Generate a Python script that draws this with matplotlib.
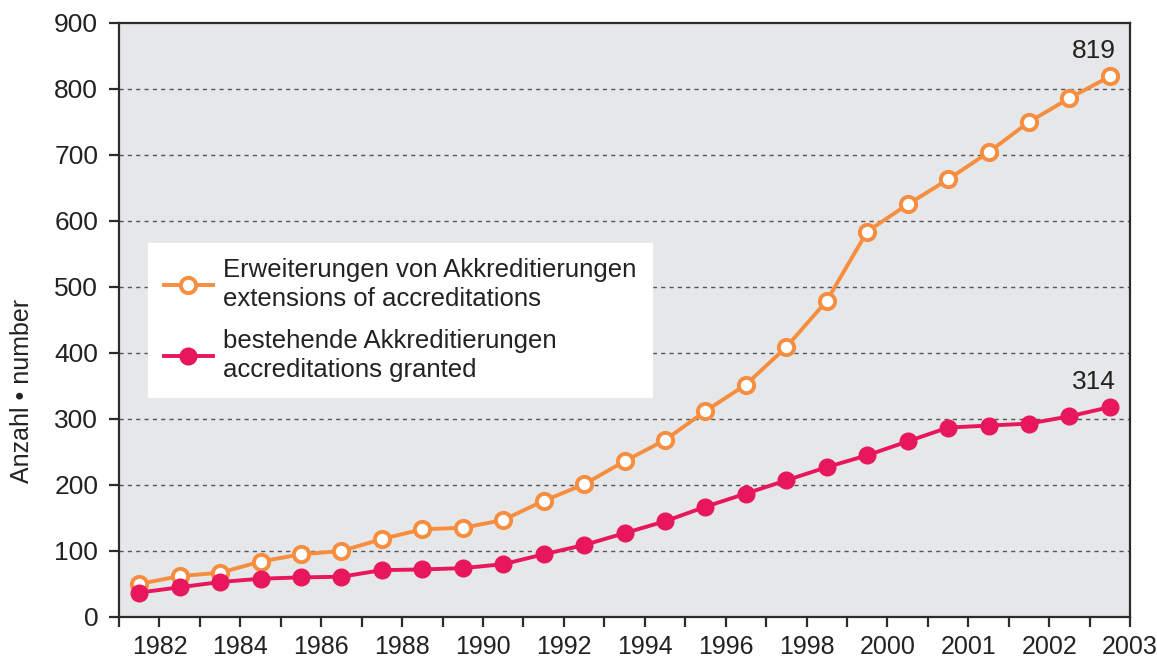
#!/usr/bin/env python3
# -*- coding: utf-8 -*-
"""Akkreditierungen: Erweiterungen und bestehende Akkreditierungen 1982-2003"""

import numpy as np
import matplotlib
matplotlib.use("Agg")
import matplotlib.pyplot as plt

plt.rcParams['font.family'] = ['Liberation Sans', 'DejaVu Sans']

# Daten
erweiterungen = [50, 62, 67, 84, 95, 100, 118, 133, 135, 147, 176, 201, 236, 268, 312,
                 352, 409, 479, 584, 625, 663, 704, 750, 786, 819]
bestehende = [37, 45, 53, 58, 60, 61, 71, 72, 74, 80, 95, 109, 127, 145, 167,
              187, 207, 227, 245, 266, 287, 290, 293, 304, 318]
tick_labels = ['1982', '1984', '1986', '1988', '1990', '1992', '1994', '1996',
               '1998', '2000', '2001', '2002', '2003']
label_erw = 'Erweiterungen von Akkreditierungen\nextensions of accreditations'
label_best = 'bestehende Akkreditierungen\naccreditations granted'
end_labels = ['819', '314']

ORANGE = '#f68d3f'
RED = '#e8175d'
BG = '#e6e7e9'
DARK = '#2b2b2b'
TXT = '#222222'

x = np.arange(len(erweiterungen)) + 0.5

fig = plt.figure(figsize=(11.57, 6.62), dpi=100)
ax = fig.add_axes([0.1029, 0.068, 0.8738, 0.8973])
ax.set_facecolor(BG)

ax.plot(x, erweiterungen, color=ORANGE, lw=2.8, marker='o', ms=11,
        mfc='white', mec=ORANGE, mew=2.8, label=label_erw, zorder=3)
ax.plot(x, bestehende, color=RED, lw=2.8, marker='o', ms=12,
        mfc=RED, mec=RED, label=label_best, zorder=3)

ax.set_xlim(0, len(erweiterungen))
ax.set_ylim(0, 900)
ax.set_yticks(np.arange(0, 901, 100))
ax.set_xticks(np.arange(0, len(erweiterungen) + 1))
ax.set_xticklabels(['' if i % 2 == 0 else tick_labels[i // 2]
                    for i in range(len(erweiterungen) + 1)])

for y in range(100, 900, 100):
    ax.axhline(y, color='#555555', lw=1.0, ls=(0, (3, 3)), zorder=1)

for s in ax.spines.values():
    s.set_color(DARK)
    s.set_linewidth(1.6)

ax.tick_params(axis='both', direction='out', length=7, width=1.6,
               color=DARK, labelsize=19, labelcolor=TXT)
ax.tick_params(axis='x', labelsize=18, pad=6)
ax.tick_params(axis='y', pad=8)

ax.set_ylabel('Anzahl • number', fontsize=18, color=TXT)
ax.yaxis.set_label_coords(-0.084, 0.38)

# Endwerte
ax.text(x[-1] - 0.4, erweiterungen[-1] + 20, end_labels[0], fontsize=19,
        ha='center', va='bottom', color=TXT)
ax.text(x[-1] - 0.4, bestehende[-1] + 20, end_labels[1], fontsize=19,
        ha='center', va='bottom', color=TXT)

leg = ax.legend(loc='upper left', bbox_to_anchor=(0.029, 0.63), fontsize=18.5,
                frameon=True, fancybox=False, framealpha=1.0,
                handlelength=1.9, handletextpad=0.4, labelspacing=0.7,
                borderpad=0.6, borderaxespad=0)
leg.get_frame().set_facecolor('white')
leg.get_frame().set_edgecolor('white')
for t in leg.get_texts():
    t.set_color(TXT)
    t.set_linespacing(1.25)

fig.savefig('out.png', dpi=100)
